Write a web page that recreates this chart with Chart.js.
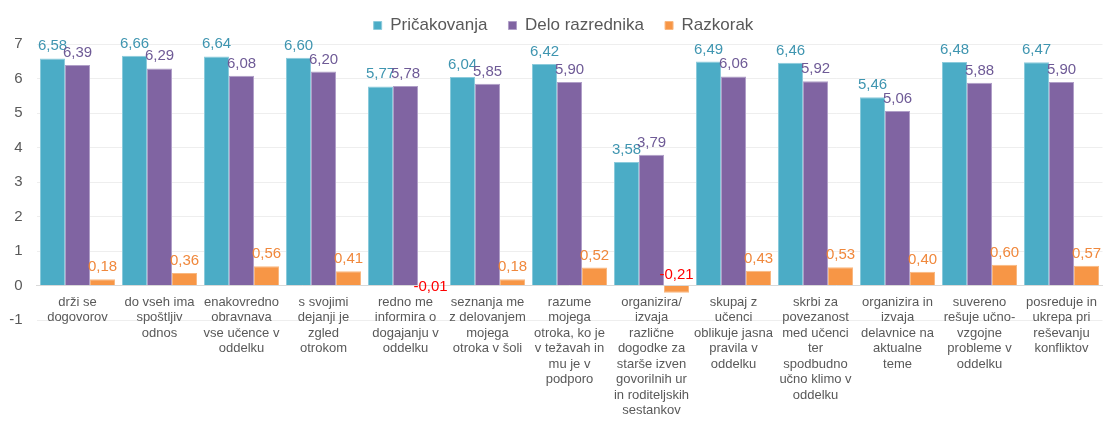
<!DOCTYPE html>
<html>
<head>
<meta charset="utf-8">
<script src="https://cdn.jsdelivr.net/npm/chart.js@4.4.0/dist/chart.umd.min.js"></script>
<style>
  body { margin: 0; background: #ffffff; }
  #wrap { width: 1104px; height: 421px; position: relative; }
</style>
</head>
<body>
<div id="wrap"><canvas id="chart"></canvas></div>
<script>
// Category labels, already broken into lines like the original
const categories = [
  ["drži se", "dogovorov"],
  ["do vseh ima", "spoštljiv", "odnos"],
  ["enakovredno", "obravnava", "vse učence v", "oddelku"],
  ["s svojimi", "dejanji je", "zgled", "otrokom"],
  ["redno me", "informira o", "dogajanju v", "oddelku"],
  ["seznanja me", "z delovanjem", "mojega", "otroka v šoli"],
  ["razume", "mojega", "otroka, ko je", "v težavah in", "mu je v", "podporo"],
  ["organizira/", "izvaja", "različne", "dogodke za", "starše izven", "govorilnih ur", "in roditeljskih", "sestankov"],
  ["skupaj z", "učenci", "oblikuje jasna", "pravila v", "oddelku"],
  ["skrbi za", "povezanost", "med učenci", "ter", "spodbudno", "učno klimo v", "oddelku"],
  ["organizira in", "izvaja", "delavnice na", "aktualne", "teme"],
  ["suvereno", "rešuje učno-", "vzgojne", "probleme v", "oddelku"],
  ["posreduje in", "ukrepa pri", "reševanju", "konfliktov"]
]

const seriesNames = ["Pričakovanja", "Delo razrednika", "Razkorak"]

const pricakovanja = [6.58, 6.66, 6.64, 6.60, 5.77, 6.04, 6.42, 3.58, 6.49, 6.46, 5.46, 6.48, 6.47]
const deloRazrednika = [6.39, 6.29, 6.08, 6.20, 5.78, 5.85, 5.90, 3.79, 6.06, 5.92, 5.06, 5.88, 5.90]
const razkorak = [0.18, 0.36, 0.56, 0.41, -0.01, 0.18, 0.52, -0.21, 0.43, 0.53, 0.40, 0.60, 0.57]

// y axis range and step
const yMin = -1
const yMax = 7
const yStep = 1

const FONT = '"Liberation Sans", Arial, sans-serif'

// Draws the value above each bar (Excel style, comma decimals)
const valueLabels = {
  id: "valueLabels",
  afterDatasetsDraw(chart) {
    const ctx = chart.ctx
    ctx.save()
    ctx.font = "15px " + FONT
    ctx.textAlign = "center"
    ctx.textBaseline = "alphabetic"
    chart.data.datasets.forEach((ds, i) => {
      const meta = chart.getDatasetMeta(i)
      meta.data.forEach((bar, j) => {
        const v = ds.data[j]
        const text = v.toFixed(2).replace(".", ",")
        let y
        if (v >= 0) {
          ctx.fillStyle = ds.labelColor
          y = bar.y - 8
        } else {
          ctx.fillStyle = "#FF0000"
          // tiny negative bars get the label just under them, others above the zero line
          y = (bar.y - bar.base) < 3 ? bar.y + 5 : bar.base - 7
        }
        ctx.fillText(text, bar.x, y)
      })
    })
    ctx.restore()
  }
}

new Chart(document.getElementById("chart"), {
  type: "bar",
  data: {
    labels: categories,
    datasets: [
      {
        label: seriesNames[0],
        data: pricakovanja,
        backgroundColor: "#4BACC6",
        borderColor: "#8CCBDC",
        borderWidth: 1,
        labelColor: "#3F95B0"
      },
      {
        label: seriesNames[1],
        data: deloRazrednika,
        backgroundColor: "#8064A2",
        borderColor: "#B09FC8",
        borderWidth: 1,
        labelColor: "#6E5A96"
      },
      {
        label: seriesNames[2],
        data: razkorak,
        backgroundColor: "#F79646",
        borderColor: "#F9B880",
        borderWidth: 1,
        labelColor: "#F0883C"
      }
    ]
  },
  options: {
    responsive: true,
    maintainAspectRatio: false,
    animation: false,
    datasets: {
      bar: {
        categoryPercentage: 0.915,
        barPercentage: 1.0
      }
    },
    layout: {
      padding: { top: -4, left: 24.5, right: 1.5, bottom: 101 }
    },
    plugins: {
      legend: {
        position: "top",
        labels: {
          boxWidth: 8,
          boxHeight: 8,
          padding: 21,
          color: "#595959",
          font: { family: FONT, size: 17 }
        }
      },
      tooltip: { enabled: false }
    },
    scales: {
      x: {
        position: { y: 0 },
        grid: { display: false },
        border: { color: "#D9D9D9", width: 1 },
        ticks: {
          color: "#595959",
          font: { family: FONT, size: 13, lineHeight: 1.19 },
          maxRotation: 0,
          minRotation: 0,
          autoSkip: false,
          padding: 1
        }
      },
      y: {
        min: yMin,
        max: yMax,
        ticks: {
          stepSize: yStep,
          color: "#595959",
          font: { family: FONT, size: 15 },
          // labels sit left of the plot, right edge near x=22
          mirror: true,
          crossAlign: "far",
          padding: -27.3
        },
        grid: { color: "#EEEEEE", drawTicks: false },
        border: { display: false },
        afterFit(scale) {
          scale.width = 12
        }
      }
    }
  },
  plugins: [valueLabels]
})
</script>
</body>
</html>
